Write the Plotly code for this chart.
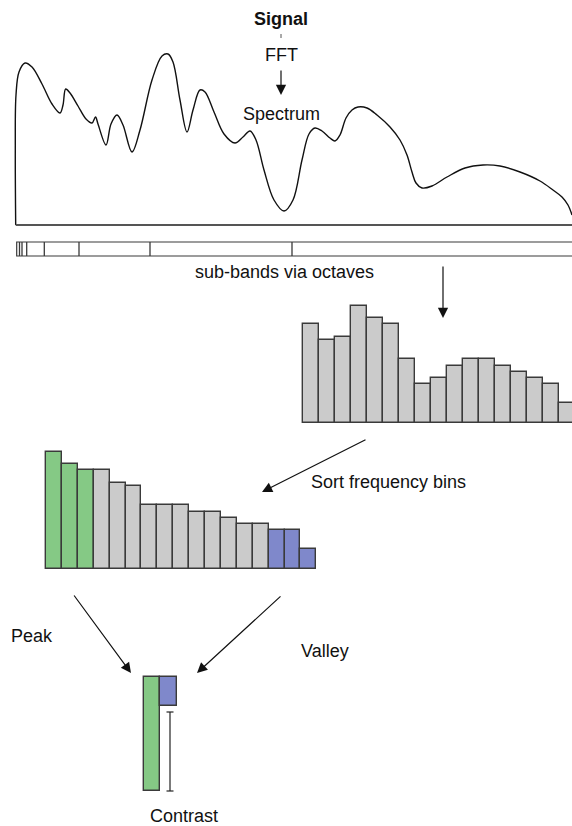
import plotly.graph_objects as go

W, H = 572, 826

# ---------------- data (pixel units) ----------------
spectrum_x = [15.7, 15.3, 16, 19, 25, 32, 42, 52, 60, 63, 65.7, 70, 78, 86, 92, 95.5, 98, 106,
              111, 117, 123, 132, 140, 152, 162, 168, 173, 180, 187, 193, 200, 205, 214, 224,
              235, 243, 250, 256, 264, 274, 284, 293, 302, 309, 315, 322, 330, 335, 340, 346,
              352, 358, 367, 377, 390, 400, 407, 412, 416, 422, 432, 447, 465, 483, 500, 520,
              540, 553, 562, 568, 572]
spectrum_y = [225, 150, 95, 72, 63, 67, 84, 104, 113, 105, 89, 93, 106, 119, 123, 117, 124, 145,
              124, 115, 125, 152, 130, 80, 56, 54, 62, 100, 132, 110, 90, 92, 112, 134,
              143, 137, 131, 140, 170, 200, 211, 200, 160, 134, 128, 131, 138, 141, 135, 118,
              110, 107, 108, 115, 127, 140, 155, 172, 183, 188, 186, 177, 168, 165, 166, 172,
              181, 190, 197, 205, 215]
spectrum_baseline = 225

subband_edges = [16.7, 19.5, 22, 26.7, 44.3, 79, 150, 292, 572]
subband_top, subband_bottom = 242, 256

band_energy = [99, 83, 86, 117, 105, 99, 64, 39, 45, 57, 64, 64, 57, 51, 45, 39, 20]
sorted_energy = sorted(band_energy, reverse=True)
n_peak, n_valley = 3, 3

contrast_peak = 114
contrast_valley = 29

labels = {
    "signal": "<b>Signal</b>",
    "fft": "FFT",
    "spectrum": "Spectrum",
    "subbands": "sub-bands via octaves",
    "sort": "Sort frequency bins",
    "peak": "Peak",
    "valley": "Valley",
    "contrast": "Contrast",
}

# ---------------- style / layout constants ----------------
GRAY = "#cbcbcb"
GREEN = "#85c985"
BLUE = "#7f88cb"
EDGE = "#3a3a3a"
FONT = "Liberation Sans, Arial, Helvetica, sans-serif"
FS = 18

hist_x0, hist_w, hist_base = 303, 16.0, 423
sort_x0, sort_w, sort_base = 46, 15.9, 569
contrast_x0, contrast_base = 144, 791

fig = go.Figure()

# spectrum curve
fig.add_trace(go.Scatter(x=spectrum_x, y=spectrum_y, mode="lines",
                         line=dict(color="#111111", width=1.4, shape="spline", smoothing=1.0),
                         hoverinfo="skip"))
# spectrum baseline
fig.add_trace(go.Scatter(x=[spectrum_x[0], W], y=[spectrum_baseline, spectrum_baseline], mode="lines",
                         line=dict(color="#555555", width=1.8), hoverinfo="skip"))

# sub-band bar
shapes = [dict(type="rect", xref="x", yref="y", x0=subband_edges[0], x1=subband_edges[-1] + 2,
               y0=subband_top, y1=subband_bottom, line=dict(color=EDGE, width=1.2))]
for e in subband_edges[1:-1]:
    shapes.append(dict(type="line", xref="x", yref="y", x0=e, x1=e, y0=subband_top, y1=subband_bottom,
                       line=dict(color=EDGE, width=1.3)))

# band histogram
n = len(band_energy)
fig.add_trace(go.Bar(x=[hist_x0 + hist_w * (i + 0.5) for i in range(n)],
                     y=[-v for v in band_energy], base=hist_base, width=hist_w,
                     marker=dict(color=GRAY, line=dict(color=EDGE, width=1.4)), hoverinfo="skip"))

# sorted histogram
sort_colors = [GREEN if i < n_peak else (BLUE if i >= n - n_valley else GRAY) for i in range(n)]
fig.add_trace(go.Bar(x=[sort_x0 + sort_w * (i + 0.5) for i in range(n)],
                     y=[-v for v in sorted_energy], base=sort_base, width=sort_w,
                     marker=dict(color=sort_colors, line=dict(color=EDGE, width=1.4)), hoverinfo="skip"))

# contrast bars
fig.add_trace(go.Bar(x=[contrast_x0 + 8], y=[-contrast_peak], base=contrast_base, width=16,
                     marker=dict(color=GREEN, line=dict(color=EDGE, width=1.4)), hoverinfo="skip"))
fig.add_trace(go.Bar(x=[contrast_x0 + 16 + 8.5], y=[contrast_valley], base=contrast_base - contrast_peak,
                     width=17, marker=dict(color=BLUE, line=dict(color=EDGE, width=1.4)), hoverinfo="skip"))

# contrast range marker
rx = contrast_x0 + 26
r_top = contrast_base - contrast_peak + contrast_valley + 6
fig.add_trace(go.Scatter(x=[rx, rx, None, rx - 3.5, rx + 3.5, None, rx - 3.5, rx + 3.5],
                         y=[r_top, contrast_base, None, r_top, r_top, None, contrast_base, contrast_base],
                         mode="lines", line=dict(color="#222222", width=1.2), hoverinfo="skip"))

# small tick under "Signal"
shapes.append(dict(type="line", xref="x", yref="y", x0=281, x1=281, y0=34, y1=38,
                   line=dict(color="#555555", width=1)))

annotations = []


def text(t, x, y, xanchor="center"):
    annotations.append(dict(text=t, x=x, y=y, xref="x", yref="y", showarrow=False,
                            xanchor=xanchor, yanchor="middle",
                            font=dict(family=FONT, size=FS, color="#111111")))


def arrow(x0, y0, x1, y1):
    annotations.append(dict(text="", x=x1, y=y1, ax=x0, ay=y0, xref="x", yref="y",
                            axref="x", ayref="y", showarrow=True, arrowhead=2,
                            arrowsize=1.7, arrowwidth=1.2, arrowcolor="#111111", standoff=0))


text(labels["signal"], 281, 19)
text(labels["fft"], 281, 55)
text(labels["spectrum"], 281, 114)
text(labels["subbands"], 284, 272)
text(labels["sort"], 309, 482, xanchor="left")
text(labels["peak"], 9, 636, xanchor="left")
text(labels["valley"], 299, 651, xanchor="left")
text(labels["contrast"], 184, 816)

arrow(281, 69, 281, 95)
arrow(443, 265, 443, 318)
arrow(367, 439, 262, 492)
arrow(73, 594, 131, 673)
arrow(282, 595, 197, 673)

fig.update_layout(
    width=W, height=H, margin=dict(l=0, r=0, t=0, b=0),
    paper_bgcolor="white", plot_bgcolor="white", showlegend=False,
    barmode="overlay", bargap=0,
    xaxis=dict(range=[0, W], visible=False, fixedrange=True),
    yaxis=dict(range=[H, 0], visible=False, fixedrange=True),
    shapes=shapes, annotations=annotations,
)

page_css = ("document.body.style.margin='0';"
            "document.body.style.overflow='hidden';"
            "document.documentElement.style.overflow='hidden';")
fig.write_html("out.html", config={"displayModeBar": False}, post_script=page_css)
